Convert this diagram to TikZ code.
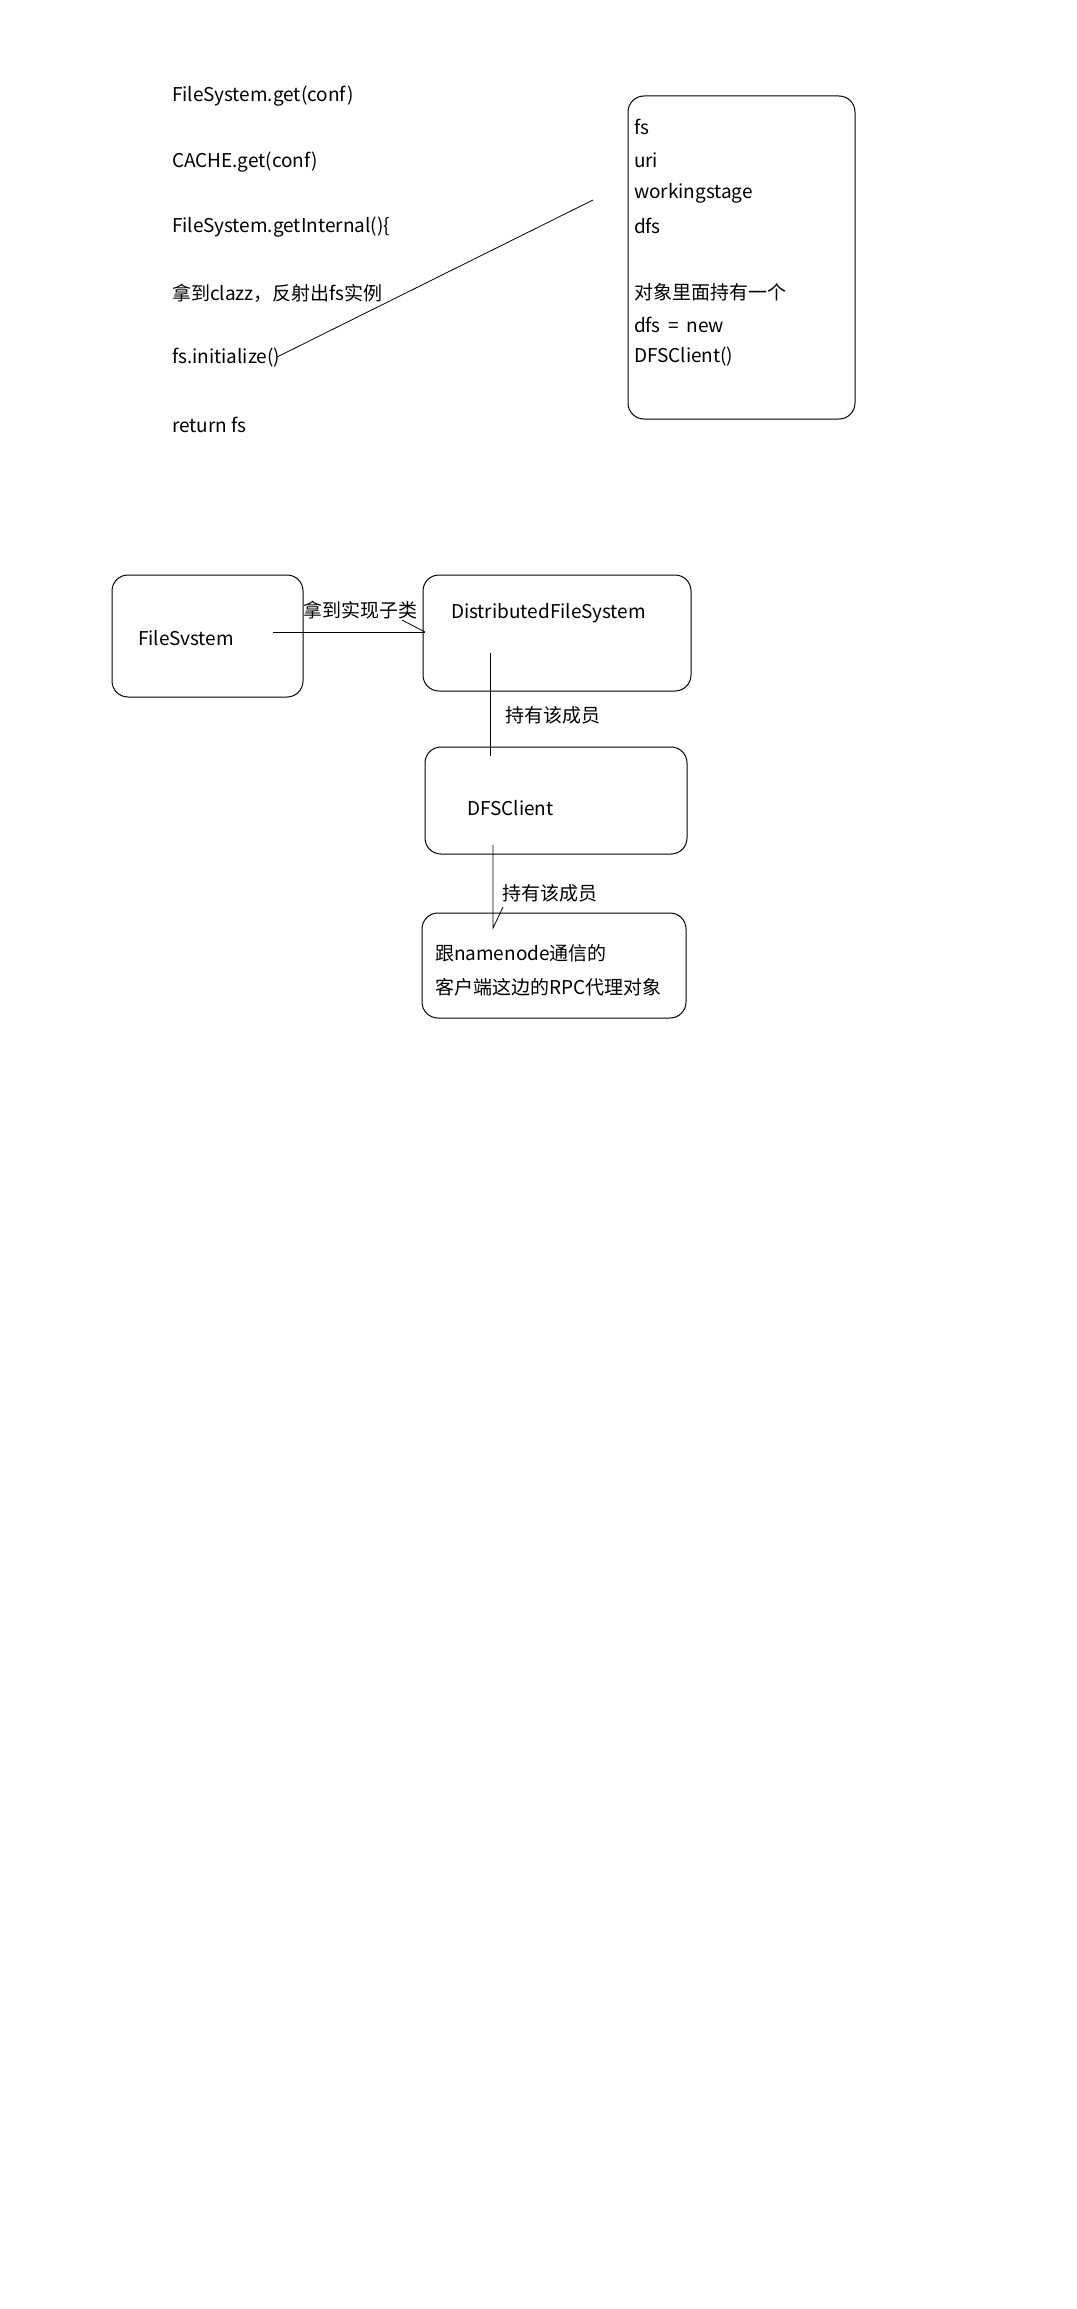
\documentclass[tikz,border=0pt]{standalone}
\usepackage{fontspec}
\setmainfont{Noto Sans CJK SC}
\begin{document}
\begin{tikzpicture}[x=1pt,y=-1pt,
  box/.style={draw=black,line width=1pt,rounded corners=16pt,inner sep=0pt,outer sep=0pt},
  txt/.style={anchor=west,inner sep=0pt,outer sep=0pt,font=\fontsize{19}{23}\selectfont},
  conn/.style={draw=black,line width=0.8pt}]
\path[fill=white] (0,0) rectangle (1076,2309);
\useasboundingbox (0,0) rectangle (1076,2309);
% code lines
\node[txt] (t1) at (172,96) {FileSystem.get(conf)};
\node[txt] (t2) at (172,162) {CACHE.get(conf)};
\node[txt] (t3) at (172,227) {FileSystem.getInternal()\{};
\node[txt] (t4) at (172,293) {拿到clazz，反射出fs实例};
\node[txt] (t5) at (172,358) {fs.initialize()};
\node[txt] (t6) at (172,425) {return fs};
% right box
\node[box,minimum width=227pt,minimum height=323pt] (rbox) at (741.5,257.5) {};
\node[txt] (r1) at (634,127) {fs};
\node[txt] (r2) at (634,160) {uri};
\node[txt] (r3) at (634,193) {workingstage};
\node[txt] (r4) at (634,226) {dfs};
\node[txt] (r5) at (634,292) {对象里面持有一个};
\node[txt] (r6) at (634,325) {dfs\hspace{0.4em}=\hspace{0.4em}new};
\node[txt] (r7) at (634,357) {DFSClient()};
\coordinate (l1s) at (277,357);
\coordinate (l1e) at (593,200);
\draw[conn] (l1s) -- (l1e);
% lower diagram
\node[box,minimum width=191pt,minimum height=122pt] (fsbox) at (207.5,636) {};
\node[txt] (fst) at (138,638) {FileSvstem};
\node[box,minimum width=268pt,minimum height=116pt] (dfsbox) at (557,633) {};
\node[txt] (dfst) at (451,613) {DistributedFileSystem};
\coordinate (a1s) at (273,632);
\coordinate (a1h) at (402,620);
\coordinate (a1e) at (425,632);
\draw[conn] (a1s) -- (a1e);
\draw[conn] (a1h) -- (a1e);
\node[txt] (lab1) at (303,610) {拿到实现子类};
\node[box,minimum width=262pt,minimum height=107pt] (clbox) at (556,800.5) {};
\node[txt] (clt) at (467,808) {DFSClient};
\coordinate (v1s) at (490,653);
\coordinate (v1e) at (490,756);
\draw[conn] (v1s) -- (v1e);
\node[txt] (lab2) at (505,715) {持有该成员};
\node[box,minimum width=264pt,minimum height=105pt] (rpcbox) at (554,965.5) {};
\node[txt] (rpc1) at (435,953) {跟namenode通信的};
\node[txt] (rpc2) at (435,987) {客户端这边的RPC代理对象};
\coordinate (v2s) at (493,845);
\coordinate (v2e) at (493,928);
\coordinate (v2h) at (503,907);
\draw[conn] (v2s) -- (v2e) -- (v2h);
\node[txt] (lab3) at (502,893) {持有该成员};
\end{tikzpicture}
\end{document}
